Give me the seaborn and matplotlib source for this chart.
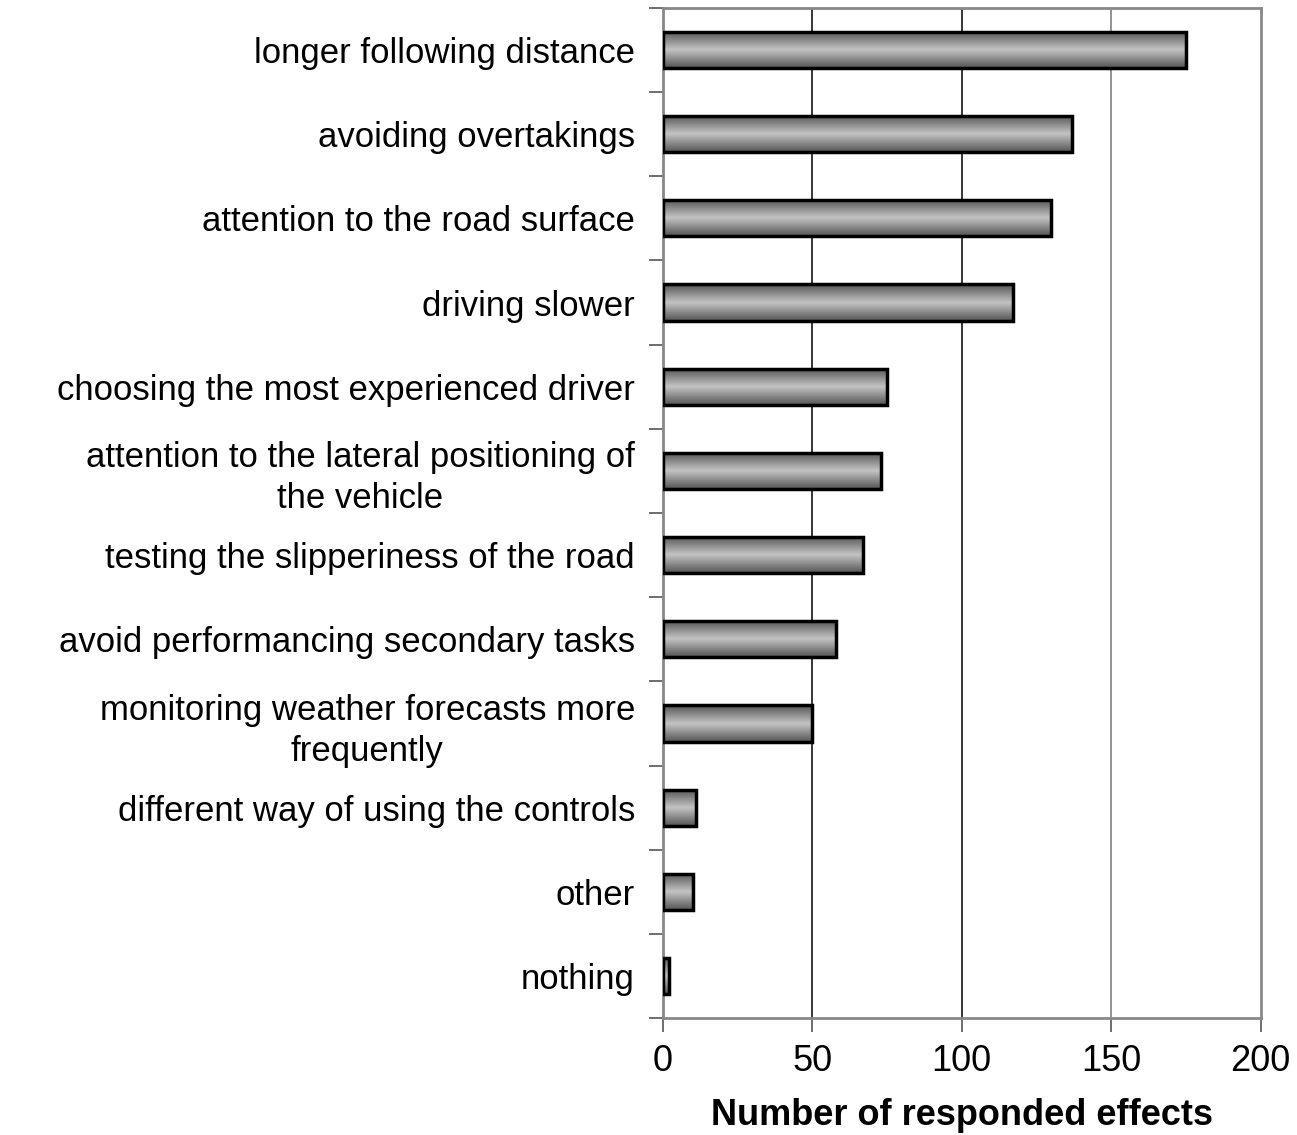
import numpy as np
import pandas as pd
import matplotlib
matplotlib.use("Agg")
import matplotlib.pyplot as plt
from matplotlib.colors import LinearSegmentedColormap
from matplotlib.ticker import FixedLocator
import seaborn as sns

categories = [
    "longer following distance",
    "avoiding overtakings",
    "attention to the road surface",
    "driving slower",
    "choosing the most experienced driver",
    "attention to the lateral positioning of\nthe vehicle",
    "testing the slipperiness of the road",
    "avoid performancing secondary tasks",
    "monitoring weather forecasts more\nfrequently",
    "different way of using the controls",
    "other",
    "nothing",
]
counts = [175, 137, 130, 117, 75, 73, 67, 58, 50, 11, 10, 2]
x_ticks = [0, 50, 100, 150, 200]

sns.set_style("white")
plt.rcParams["font.family"] = ["Liberation Sans", "DejaVu Sans"]
plt.rcParams["text.color"] = "black"
plt.rcParams["xtick.labelcolor"] = "black"
plt.rcParams["ytick.labelcolor"] = "black"
plt.rcParams["axes.labelcolor"] = "black"

df = pd.DataFrame({"effect": categories, "n": counts})

fig = plt.figure(figsize=(12.97, 11.35), dpi=100)
ax = fig.add_axes([0.511, 0.103, 0.461, 0.890])

sns.barplot(data=df, x="n", y="effect", orient="h", width=0.43,
            color="#b0b0b0", edgecolor="black", linewidth=2.5, ax=ax, zorder=3)

# vertical shading on each bar, dark edges, light middle
shade = LinearSegmentedColormap.from_list("shade", ["#555555", "#c4c4c4", "#555555"])
grad = np.linspace(0, 1, 64).reshape(-1, 1)
for p in ax.patches:
    x0, y0, w, h = p.get_x(), p.get_y(), p.get_width(), p.get_height()
    im = ax.imshow(grad, cmap=shade, aspect="auto", interpolation="bicubic",
                   extent=(x0, x0 + w, y0 + h, y0), zorder=3.5)
    im.set_clip_path(p)
    p.set_facecolor("none")
    p.set_zorder(4)

ax.set_xlim(0, 200)
ax.set_ylim(len(categories) - 0.5, -0.5)
ax.set_xticks(x_ticks)
ax.set_xticklabels([str(t) for t in x_ticks], fontsize=26)
ax.tick_params(axis="x", direction="out", length=10, width=1.2, color="#555555",
               pad=9, bottom=True)

ax.tick_params(axis="y", which="major", length=0, pad=20, labelsize=25)
ax.yaxis.set_minor_locator(FixedLocator(np.arange(-0.5, len(categories), 1.0)))
ax.tick_params(axis="y", which="minor", direction="out", length=10, width=1.2,
               color="#555555", left=True)
for lbl in ax.get_yticklabels():
    lbl.set_multialignment("center")
    lbl.set_linespacing(1.3)

for x, c in zip(x_ticks[1:-1], ["black", "black", "#777777"]):
    ax.axvline(x, color=c, linewidth=1.1, zorder=1)

for s in ax.spines.values():
    s.set_visible(True)
    s.set_color("#888888")
    s.set_linewidth(2)

ax.set_ylabel("")
ax.set_xlabel("Number of responded effects", fontsize=26, fontweight="bold")
ax.xaxis.set_label_coords(0.5, -0.079)

fig.savefig("out.png", dpi=100)
